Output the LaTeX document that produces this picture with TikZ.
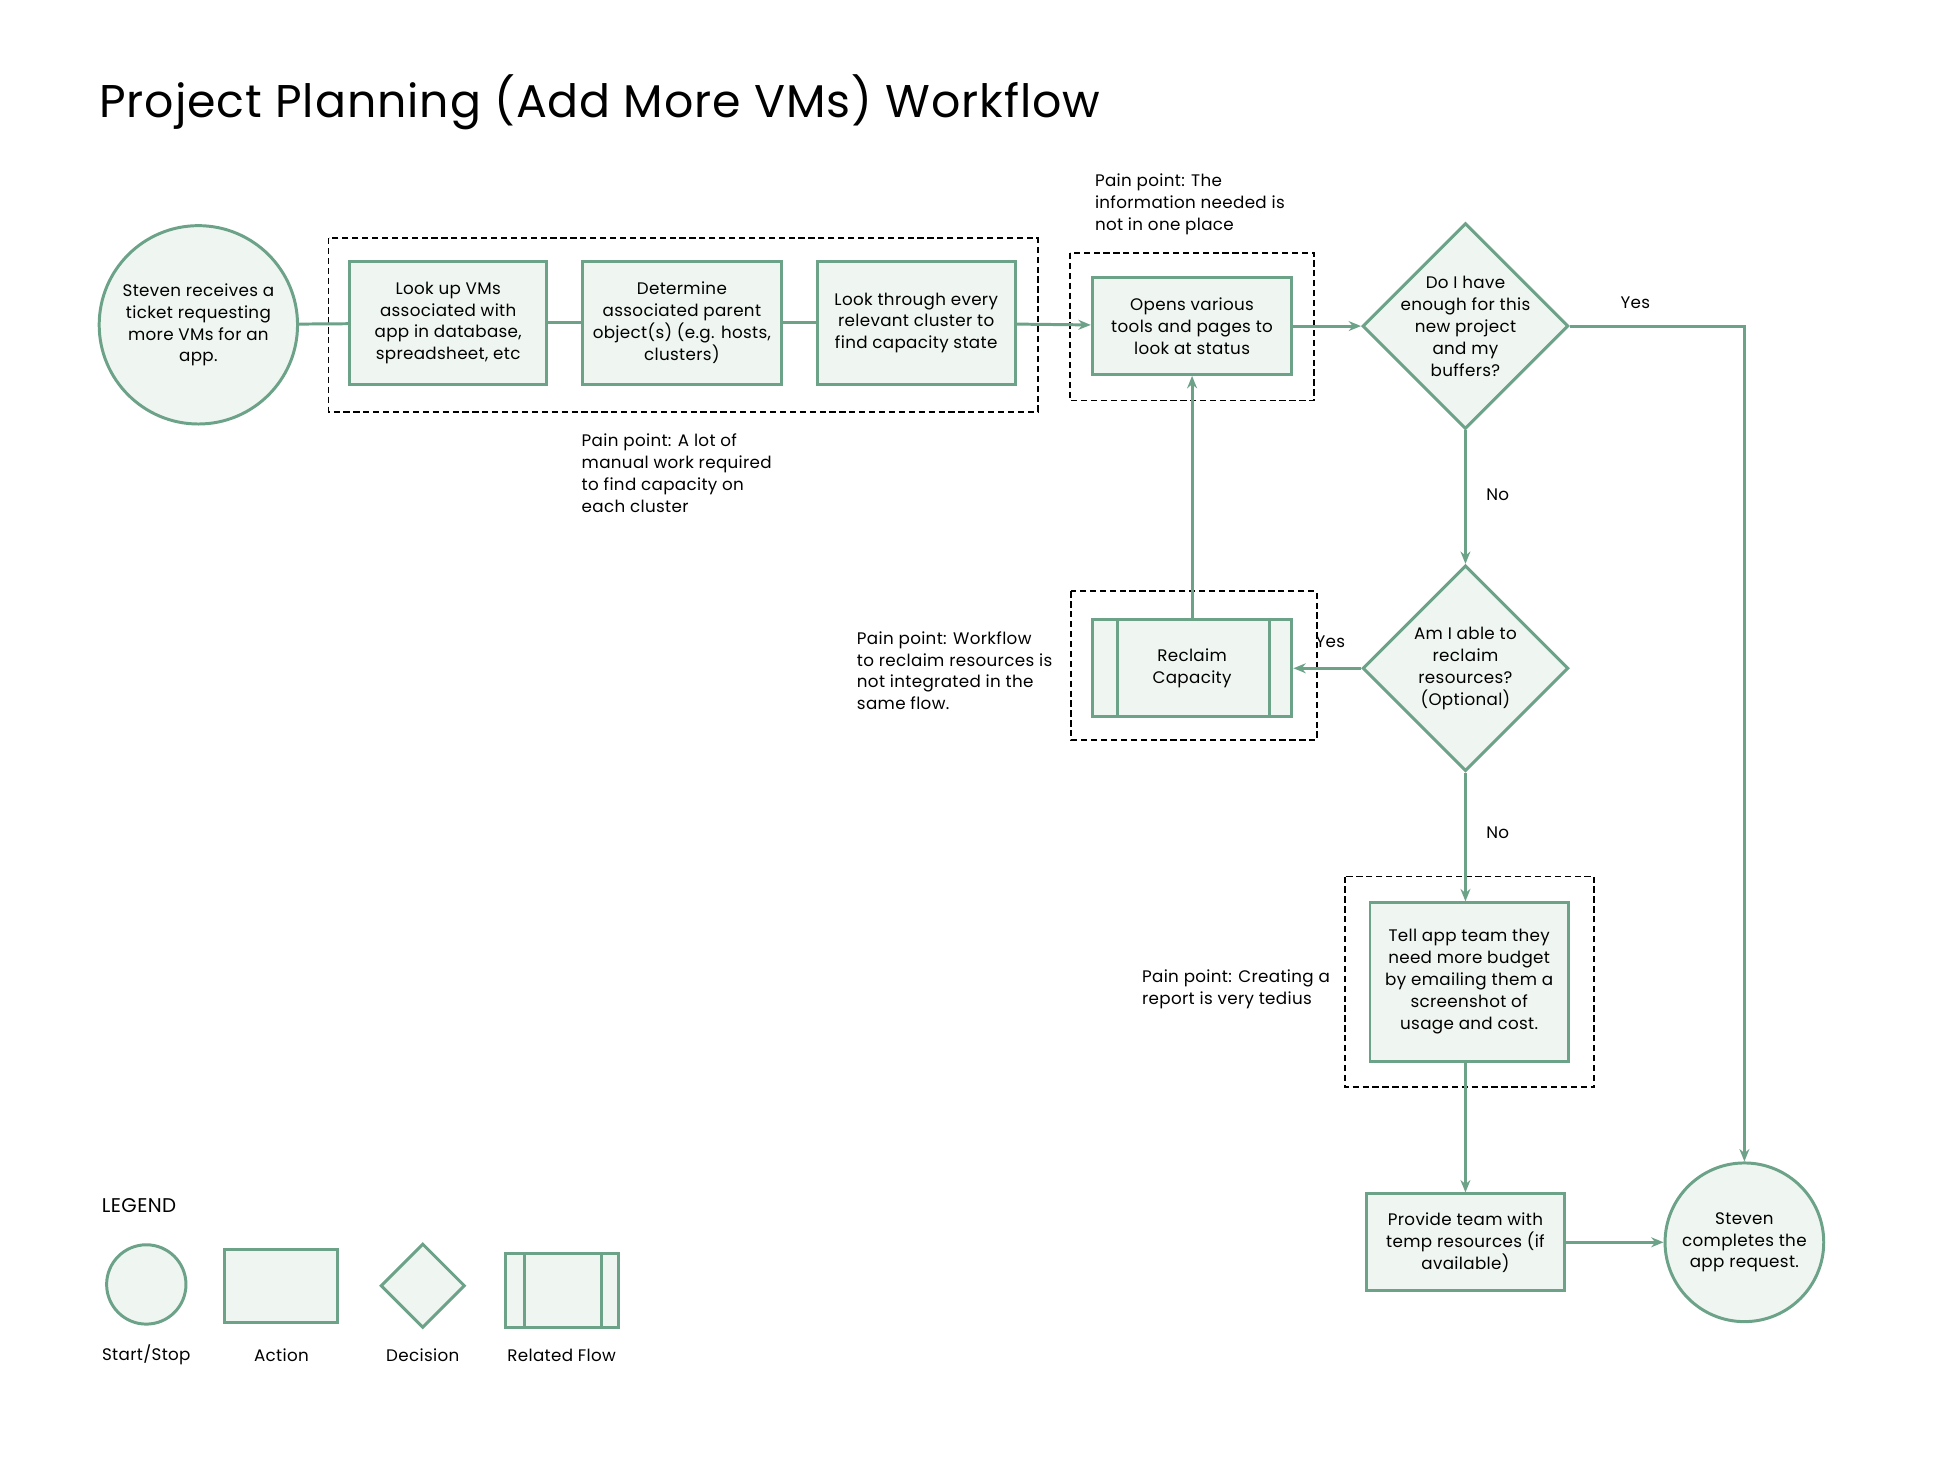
\documentclass[tikz,border=0pt]{standalone}
\usepackage{fontspec}
\setmainfont{Poppins}[LetterSpace=2]
\usetikzlibrary{shapes.geometric,arrows.meta}
\definecolor{gr}{HTML}{6BA288}
\definecolor{gf}{HTML}{EFF5F1}
\begin{document}
\begin{tikzpicture}[x=1pt,y=-1pt,
  txt/.style={font=\fontsize{13.5}{17.7}\selectfont,align=center},
  act/.style={draw=gr,fill=gf,line width=2.4pt,rectangle,inner sep=0pt,txt},
  dia/.style={act,diamond,inner sep=-12pt,minimum width=166pt,minimum height=166pt},
  ln/.style={draw=gr,line width=2.4pt},
  arr/.style={ln,-{Stealth[length=10pt,width=8pt]}},
  dashbox/.style={draw=black,line width=1.5pt,dash pattern=on 5pt off 3pt},
  pain/.style={font=\fontsize{13.5}{17.7}\selectfont,align=left,anchor=north west,inner sep=0pt},
  lbl/.style={font=\fontsize{13.5}{15}\selectfont,inner sep=0pt}]
\useasboundingbox (0,0) rectangle (1568,1194.5);
\node[anchor=base west,inner sep=0pt,font=\fontsize{37}{40}\selectfont] (title) at (80,95) {Project Planning (Add More VMs) Workflow};
% dashed boxes
\draw[dashbox] (265,192) rectangle (837,332);
\draw[dashbox] (863,204) rectangle (1060,323);
\draw[dashbox] (864,477) rectangle (1062,597);
\draw[dashbox] (1085,707) rectangle (1286,877);
% nodes
\node[act,circle,minimum size=160pt] (s) at (160,262) {Steven receives a\\ticket requesting\\more VMs for an\\app.};
\node[act,minimum width=159pt,minimum height=99pt] (a) at (361.5,260.5) {Look up VMs\\associated with\\app in database,\\spreadsheet, etc};
\node[act,minimum width=160pt,minimum height=99pt] (b) at (550,260.5) {Determine\\associated parent\\object(s) (e.g. hosts,\\clusters)};
\node[act,minimum width=160pt,minimum height=99pt] (c) at (739,260.5) {Look through every\\relevant cluster to\\find capacity state};
\node[act,minimum width=161pt,minimum height=78pt] (d) at (961.5,263) {Opens various\\tools and pages to\\look at status};
\node[dia] (q1) at (1182,263) {Do I have\\enough for this\\new project\\and my\\buffers?};
\node[dia] (q2) at (1182,539) {Am I able to\\reclaim\\resources?\\(Optional)};
\node[act,minimum width=161pt,minimum height=78pt] (r) at (961.5,539) {Reclaim\\Capacity};
\draw[ln] (901,500) -- (901,578) (1024,500) -- (1024,578);
\node[act,minimum width=160pt,minimum height=128pt] (t) at (1185,792) {Tell app team they\\need more budget\\by emailing them a\\screenshot of\\usage and cost.};
\node[act,minimum width=160pt,minimum height=78pt] (p) at (1182,1002) {Provide team with\\temp resources (if\\available)};
\node[act,circle,minimum size=128pt] (e) at (1407,1002) {Steven\\completes the\\app request.};
\coordinate (cy) at (1407,263);
% connectors
\draw[ln] (s) -- (a);
\draw[ln] (a) -- (b);
\draw[ln] (b) -- (c);
\draw[arr] (c) -- (d);
\draw[arr] (d) -- (q1);
\draw[arr] (q1.east) -- (cy) -- (e.north);
\draw[arr] (q1.south) -- (q2.north);
\draw[arr] (q2.west) -- (r.east);
\draw[arr] (r.north) -- (d.south);
\draw[arr] (q2.south) -- (1182,727);
\draw[arr] (1182,856) -- (p.north);
\draw[arr] (p.east) -- (e.west);
% labels
\node[lbl] (y1) at (1319,244) {Yes};
\node[lbl] (n1) at (1208,399) {No};
\node[lbl] (y2) at (1073,518) {Yes};
\node[lbl] (n2) at (1208,672) {No};
\node[pain] (pp1) at (883,140) {Pain point: The\\information needed is\\not in one place};
\node[pain] (pp2) at (469,350) {Pain point: A lot of\\manual work required\\to find capacity on\\each cluster};
\node[pain] (pp3) at (691,509) {Pain point: Workflow\\to reclaim resources is\\not integrated in the\\same flow.};
\node[pain] (pp4) at (921,782) {Pain point: Creating a\\report is very tedius};
% legend
\node[anchor=base west,inner sep=0pt,font=\fontsize{16}{18}\selectfont] (lg) at (82,978) {LEGEND};
\node[act,circle,minimum size=64pt] (l1) at (118,1036) {};
\node[act,minimum width=91pt,minimum height=59pt] (l2) at (226.5,1037.5) {};
\node[act,diamond,minimum width=68pt,minimum height=68pt] (l3) at (341,1037) {};
\node[act,minimum width=91pt,minimum height=60pt] (l4) at (453.5,1041) {};
\draw[ln] (423,1011) -- (423,1071) (485,1011) -- (485,1071);
\node[lbl] at (118,1093) {Start/Stop};
\node[lbl] at (227,1093) {Action};
\node[lbl] at (341,1093) {Decision};
\node[lbl] at (453,1093) {Related Flow};
\end{tikzpicture}
\end{document}
